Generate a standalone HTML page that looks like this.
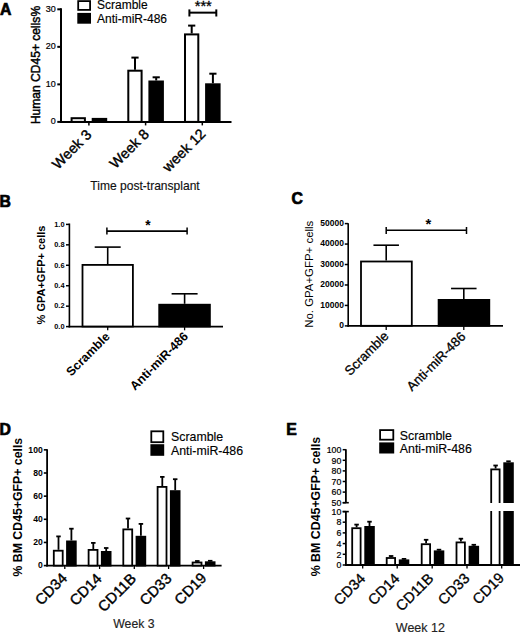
<!DOCTYPE html>
<html><head><meta charset="utf-8"><title>Figure</title><style>
html,body{margin:0;padding:0;background:#fff;}
svg{display:block;}
text{font-family:"Liberation Sans", sans-serif;}
</style></head><body>
<svg width="520" height="632" viewBox="0 0 520 632">
<rect width="520" height="632" fill="#fff"/>
<text x="-0.05" y="14.9" font-size="15.8" font-weight="bold" fill="#000" stroke="#000" stroke-width="0.7">A</text>
<rect x="78.2" y="1.1" width="11.9" height="8.8" fill="#fff" stroke="#000" stroke-width="1.8"/>
<rect x="77.3" y="12.9" width="13.7" height="10.8" fill="#000"/>
<text x="97" y="9.0" font-size="12" fill="#000" stroke="#000" stroke-width="0.15">Scramble</text>
<text x="97" y="22.6" font-size="12" fill="#000" stroke="#000" stroke-width="0.15">Anti-miR-486</text>
<line x1="61" y1="8.3" x2="61" y2="122.9" stroke="#000" stroke-width="2"/>
<line x1="60" y1="121.9" x2="231.5" y2="121.9" stroke="#000" stroke-width="2"/>
<line x1="57.3" y1="9.31" x2="61" y2="9.31" stroke="#000" stroke-width="2"/>
<line x1="57.3" y1="46.84" x2="61" y2="46.84" stroke="#000" stroke-width="2"/>
<line x1="57.3" y1="84.37" x2="61" y2="84.37" stroke="#000" stroke-width="2"/>
<line x1="57.3" y1="121.9" x2="61" y2="121.9" stroke="#000" stroke-width="2"/>
<text x="55.75" y="11.73" font-size="9.0" text-anchor="end" fill="#000" transform="matrix(1 0 0 1.08 0 -0.94)" stroke="#000" stroke-width="0.2">30</text>
<text x="55.75" y="49.26" font-size="9.0" text-anchor="end" fill="#000" transform="matrix(1 0 0 1.08 0 -3.94)" stroke="#000" stroke-width="0.2">20</text>
<text x="55.75" y="86.79" font-size="9.0" text-anchor="end" fill="#000" transform="matrix(1 0 0 1.08 0 -6.94)" stroke="#000" stroke-width="0.2">10</text>
<text x="55.75" y="124.32" font-size="9.0" text-anchor="end" fill="#000" transform="matrix(1 0 0 1.08 0 -9.95)" stroke="#000" stroke-width="0.2">0</text>
<rect x="71.6" y="118.2" width="13.3" height="3.7" fill="#fff" stroke="#000" stroke-width="2"/>
<rect x="91.7" y="117.9" width="15.5" height="5.0" fill="#000"/>
<line x1="88.9" y1="121.9" x2="88.9" y2="125.4" stroke="#000" stroke-width="1.5"/>
<line x1="135.0" y1="69.7" x2="135.0" y2="57.6" stroke="#000" stroke-width="2"/>
<line x1="131.4" y1="57.6" x2="138.6" y2="57.6" stroke="#000" stroke-width="2"/>
<line x1="156.2" y1="80.5" x2="156.2" y2="77.3" stroke="#000" stroke-width="2"/>
<line x1="152.6" y1="77.3" x2="159.8" y2="77.3" stroke="#000" stroke-width="2"/>
<rect x="128.3" y="70.7" width="13.3" height="51.2" fill="#fff" stroke="#000" stroke-width="2"/>
<rect x="148.4" y="80.5" width="15.5" height="42.4" fill="#000"/>
<line x1="145.6" y1="121.9" x2="145.6" y2="125.4" stroke="#000" stroke-width="1.5"/>
<line x1="191.7" y1="33.4" x2="191.7" y2="25.6" stroke="#000" stroke-width="2"/>
<line x1="188.1" y1="25.6" x2="195.3" y2="25.6" stroke="#000" stroke-width="2"/>
<line x1="212.9" y1="83.3" x2="212.9" y2="73.7" stroke="#000" stroke-width="2"/>
<line x1="209.3" y1="73.7" x2="216.5" y2="73.7" stroke="#000" stroke-width="2"/>
<rect x="185.0" y="34.4" width="13.3" height="87.5" fill="#fff" stroke="#000" stroke-width="2"/>
<rect x="205.1" y="83.3" width="15.5" height="39.6" fill="#000"/>
<line x1="202.3" y1="121.9" x2="202.3" y2="125.4" stroke="#000" stroke-width="1.5"/>
<line x1="189.4" y1="12.65" x2="216.3" y2="12.65" stroke="#000" stroke-width="2"/>
<line x1="189.4" y1="9.4" x2="189.4" y2="16.5" stroke="#000" stroke-width="2"/>
<line x1="216.3" y1="9.4" x2="216.3" y2="16.5" stroke="#000" stroke-width="2"/>
<text x="203.25" y="11.1" font-size="14.67" text-anchor="middle" fill="#000" stroke="#000" stroke-width="0.3">***</text>
<text x="39.8" y="65.0" font-size="12.06" text-anchor="middle" fill="#000" transform="rotate(-90 39.8 65.0)" stroke="#000" stroke-width="0.45">Human CD45+ cells%</text>
<text x="92.4" y="135.6" font-size="14.4" text-anchor="end" fill="#000" transform="rotate(-45 92.4 135.6)" stroke="#000" stroke-width="0.4">Week 3</text>
<text x="149.9" y="135.0" font-size="14.4" text-anchor="end" fill="#000" transform="rotate(-45 149.9 135.0)" stroke="#000" stroke-width="0.4">Week 8</text>
<text x="206.5" y="134.75" font-size="14.4" text-anchor="end" fill="#000" transform="rotate(-45 206.5 134.75)" stroke="#000" stroke-width="0.4">week 12</text>
<text x="145.05" y="190.3" font-size="12.05" text-anchor="middle" fill="#111" stroke="#111" stroke-width="0.15">Time post-transplant</text>
<text x="-0.4" y="206.5" font-size="15.8" font-weight="bold" fill="#000" stroke="#000" stroke-width="0.7">B</text>
<line x1="69.4" y1="223.5" x2="69.4" y2="327.4" stroke="#000" stroke-width="1.6"/>
<line x1="68.6" y1="326.6" x2="223" y2="326.6" stroke="#000" stroke-width="1.6"/>
<line x1="66" y1="224.4" x2="69.4" y2="224.4" stroke="#000" stroke-width="1.5"/>
<line x1="66" y1="244.84" x2="69.4" y2="244.84" stroke="#000" stroke-width="1.5"/>
<line x1="66" y1="265.28" x2="69.4" y2="265.28" stroke="#000" stroke-width="1.5"/>
<line x1="66" y1="285.72" x2="69.4" y2="285.72" stroke="#000" stroke-width="1.5"/>
<line x1="66" y1="306.16" x2="69.4" y2="306.16" stroke="#000" stroke-width="1.5"/>
<line x1="66" y1="326.6" x2="69.4" y2="326.6" stroke="#000" stroke-width="1.5"/>
<text x="64.5" y="226.62" font-size="7.4" font-weight="bold" text-anchor="end" fill="#000">1.0</text>
<text x="64.5" y="247.06" font-size="7.4" font-weight="bold" text-anchor="end" fill="#000">0.8</text>
<text x="64.5" y="267.5" font-size="7.4" font-weight="bold" text-anchor="end" fill="#000">0.6</text>
<text x="64.5" y="287.94" font-size="7.4" font-weight="bold" text-anchor="end" fill="#000">0.4</text>
<text x="64.5" y="308.38" font-size="7.4" font-weight="bold" text-anchor="end" fill="#000">0.2</text>
<text x="64.5" y="328.82" font-size="7.4" font-weight="bold" text-anchor="end" fill="#000">0.0</text>
<line x1="107.7" y1="264" x2="107.7" y2="247.1" stroke="#000" stroke-width="1.6"/>
<line x1="94.7" y1="247.1" x2="120.7" y2="247.1" stroke="#000" stroke-width="1.6"/>
<rect x="82.5" y="264.9" width="50.4" height="61.6" fill="#fff" stroke="#000" stroke-width="1.8"/>
<line x1="184.6" y1="303.8" x2="184.6" y2="293.8" stroke="#000" stroke-width="1.6"/>
<line x1="171.6" y1="293.8" x2="197.6" y2="293.8" stroke="#000" stroke-width="1.6"/>
<rect x="158.3" y="303.8" width="52.5" height="23.6" fill="#000"/>
<line x1="107.7" y1="326.6" x2="107.7" y2="330.3" stroke="#000" stroke-width="1.3"/>
<line x1="184.6" y1="326.6" x2="184.6" y2="330.3" stroke="#000" stroke-width="1.3"/>
<line x1="106.9" y1="231.1" x2="187.1" y2="231.1" stroke="#000" stroke-width="1.6"/>
<line x1="106.9" y1="227.5" x2="106.9" y2="234.5" stroke="#000" stroke-width="1.5"/>
<line x1="187.1" y1="227.5" x2="187.1" y2="234.5" stroke="#000" stroke-width="1.5"/>
<text x="147.95" y="229.55" font-size="13.8" font-weight="bold" text-anchor="middle" fill="#000">*</text>
<text x="44.8" y="275.0" font-size="11.01" font-weight="bold" text-anchor="middle" fill="#000" transform="rotate(-90 44.8 275.0)">% GPA+GFP+ cells</text>
<text x="110.5" y="337.5" font-size="12.35" font-weight="bold" text-anchor="end" fill="#000" transform="rotate(-45 110.5 337.5)">Scramble</text>
<text x="188.8" y="337.1" font-size="12.35" font-weight="bold" text-anchor="end" fill="#000" transform="rotate(-45 188.8 337.1)">Anti-miR-486</text>
<text x="291.5" y="204.0" font-size="15.8" font-weight="bold" fill="#000" stroke="#000" stroke-width="0.7">C</text>
<line x1="348.2" y1="223.3" x2="348.2" y2="326.7" stroke="#000" stroke-width="1.6"/>
<line x1="347.4" y1="325.9" x2="503" y2="325.9" stroke="#000" stroke-width="1.6"/>
<line x1="344.8" y1="223.6" x2="348.2" y2="223.6" stroke="#000" stroke-width="1.5"/>
<line x1="344.8" y1="244.06" x2="348.2" y2="244.06" stroke="#000" stroke-width="1.5"/>
<line x1="344.8" y1="264.52" x2="348.2" y2="264.52" stroke="#000" stroke-width="1.5"/>
<line x1="344.8" y1="284.98" x2="348.2" y2="284.98" stroke="#000" stroke-width="1.5"/>
<line x1="344.8" y1="305.44" x2="348.2" y2="305.44" stroke="#000" stroke-width="1.5"/>
<line x1="344.8" y1="325.9" x2="348.2" y2="325.9" stroke="#000" stroke-width="1.5"/>
<text x="343.9" y="225.98" font-size="8.5" font-weight="bold" text-anchor="end" fill="#000" transform="matrix(1 0 0 1.12 0 -27.12)">50000</text>
<text x="343.9" y="246.44" font-size="8.5" font-weight="bold" text-anchor="end" fill="#000" transform="matrix(1 0 0 1.12 0 -29.57)">40000</text>
<text x="343.9" y="266.9" font-size="8.5" font-weight="bold" text-anchor="end" fill="#000" transform="matrix(1 0 0 1.12 0 -32.03)">30000</text>
<text x="343.9" y="287.36" font-size="8.5" font-weight="bold" text-anchor="end" fill="#000" transform="matrix(1 0 0 1.12 0 -34.48)">20000</text>
<text x="343.9" y="307.82" font-size="8.5" font-weight="bold" text-anchor="end" fill="#000" transform="matrix(1 0 0 1.12 0 -36.94)">10000</text>
<text x="343.9" y="328.28" font-size="8.5" font-weight="bold" text-anchor="end" fill="#000" transform="matrix(1 0 0 1.12 0 -39.39)">0</text>
<line x1="386.2" y1="260.6" x2="386.2" y2="245.2" stroke="#000" stroke-width="1.6"/>
<line x1="373.45" y1="245.2" x2="398.95" y2="245.2" stroke="#000" stroke-width="1.6"/>
<rect x="361.0" y="261.5" width="50.8" height="64.3" fill="#fff" stroke="#000" stroke-width="1.8"/>
<line x1="463.8" y1="299" x2="463.8" y2="288.5" stroke="#000" stroke-width="1.6"/>
<line x1="451.05" y1="288.5" x2="476.55" y2="288.5" stroke="#000" stroke-width="1.6"/>
<rect x="437.7" y="299" width="52.5" height="27.7" fill="#000"/>
<line x1="386.2" y1="325.9" x2="386.2" y2="330" stroke="#000" stroke-width="1.3"/>
<line x1="463.8" y1="325.9" x2="463.8" y2="330" stroke="#000" stroke-width="1.3"/>
<line x1="386.2" y1="230.2" x2="466.5" y2="230.2" stroke="#000" stroke-width="1.6"/>
<line x1="386.2" y1="227" x2="386.2" y2="234" stroke="#000" stroke-width="1.5"/>
<line x1="466.5" y1="227" x2="466.5" y2="234" stroke="#000" stroke-width="1.5"/>
<text x="428.3" y="228.8" font-size="14.77" font-weight="bold" text-anchor="middle" fill="#000">*</text>
<text x="313.15" y="274.25" font-size="11.43" text-anchor="middle" fill="#000" transform="rotate(-90 313.15 274.25)">No. GPA+GFP+ cells</text>
<text x="389.5" y="336.9" font-size="13.2" text-anchor="end" fill="#000" transform="rotate(-45 389.5 336.9)" stroke="#000" stroke-width="0.3">Scramble</text>
<text x="466.4" y="337.4" font-size="13.2" text-anchor="end" fill="#000" transform="rotate(-45 466.4 337.4)" stroke="#000" stroke-width="0.3">Anti-miR-486</text>
<text x="-0.4" y="435.25" font-size="15.8" font-weight="bold" fill="#000" stroke="#000" stroke-width="0.7">D</text>
<line x1="47.1" y1="449.3" x2="47.1" y2="566.5" stroke="#000" stroke-width="1.8"/>
<line x1="46.2" y1="565.6" x2="221.6" y2="565.6" stroke="#000" stroke-width="1.8"/>
<line x1="43.8" y1="449.85" x2="47.1" y2="449.85" stroke="#000" stroke-width="1.6"/>
<line x1="43.8" y1="473.0" x2="47.1" y2="473.0" stroke="#000" stroke-width="1.6"/>
<line x1="43.8" y1="496.15" x2="47.1" y2="496.15" stroke="#000" stroke-width="1.6"/>
<line x1="43.8" y1="519.3" x2="47.1" y2="519.3" stroke="#000" stroke-width="1.6"/>
<line x1="43.8" y1="542.45" x2="47.1" y2="542.45" stroke="#000" stroke-width="1.6"/>
<line x1="43.8" y1="565.6" x2="47.1" y2="565.6" stroke="#000" stroke-width="1.6"/>
<text x="42.7" y="452.66" font-size="8.6" font-weight="bold" text-anchor="end" fill="#000" transform="matrix(1 0 0 1.08 0 -36.21)">100</text>
<text x="42.7" y="475.81" font-size="8.6" font-weight="bold" text-anchor="end" fill="#000" transform="matrix(1 0 0 1.08 0 -38.06)">80</text>
<text x="42.7" y="498.96" font-size="8.6" font-weight="bold" text-anchor="end" fill="#000" transform="matrix(1 0 0 1.08 0 -39.92)">60</text>
<text x="42.7" y="522.11" font-size="8.6" font-weight="bold" text-anchor="end" fill="#000" transform="matrix(1 0 0 1.08 0 -41.77)">40</text>
<text x="42.7" y="545.26" font-size="8.6" font-weight="bold" text-anchor="end" fill="#000" transform="matrix(1 0 0 1.08 0 -43.62)">20</text>
<text x="42.7" y="568.41" font-size="8.6" font-weight="bold" text-anchor="end" fill="#000" transform="matrix(1 0 0 1.08 0 -45.47)">0</text>
<rect x="151.3" y="431.3" width="12.0" height="10.9" fill="#fff" stroke="#000" stroke-width="1.8"/>
<rect x="150.4" y="444.2" width="13.8" height="11.6" fill="#000"/>
<text x="171.0" y="441.1" font-size="12.35" fill="#000" stroke="#000" stroke-width="0.15">Scramble</text>
<text x="171.0" y="454.6" font-size="12.35" fill="#000" stroke="#000" stroke-width="0.15">Anti-miR-486</text>
<line x1="58.5" y1="549.8" x2="58.5" y2="536.4" stroke="#000" stroke-width="1.8"/>
<line x1="56.25" y1="536.4" x2="60.75" y2="536.4" stroke="#000" stroke-width="1.8"/>
<line x1="71.4" y1="540.5" x2="71.4" y2="528.7" stroke="#000" stroke-width="1.8"/>
<line x1="69.15" y1="528.7" x2="73.65" y2="528.7" stroke="#000" stroke-width="1.8"/>
<rect x="53.8" y="550.7" width="8.9" height="14.9" fill="#fff" stroke="#000" stroke-width="1.8"/>
<rect x="66.1" y="540.5" width="10.6" height="26.0" fill="#000"/>
<line x1="64.8" y1="565.6" x2="64.8" y2="569.0" stroke="#000" stroke-width="1.3"/>
<line x1="93.3" y1="549" x2="93.3" y2="542.9" stroke="#000" stroke-width="1.8"/>
<line x1="91.05" y1="542.9" x2="95.55" y2="542.9" stroke="#000" stroke-width="1.8"/>
<line x1="106.2" y1="551" x2="106.2" y2="548" stroke="#000" stroke-width="1.8"/>
<line x1="103.95" y1="548" x2="108.45" y2="548" stroke="#000" stroke-width="1.8"/>
<rect x="88.6" y="549.9" width="8.9" height="15.7" fill="#fff" stroke="#000" stroke-width="1.8"/>
<rect x="100.9" y="551" width="10.6" height="15.5" fill="#000"/>
<line x1="99.6" y1="565.6" x2="99.6" y2="569.0" stroke="#000" stroke-width="1.3"/>
<line x1="128.0" y1="528.5" x2="128.0" y2="518.5" stroke="#000" stroke-width="1.8"/>
<line x1="125.75" y1="518.5" x2="130.25" y2="518.5" stroke="#000" stroke-width="1.8"/>
<line x1="140.9" y1="535.8" x2="140.9" y2="523.9" stroke="#000" stroke-width="1.8"/>
<line x1="138.65" y1="523.9" x2="143.15" y2="523.9" stroke="#000" stroke-width="1.8"/>
<rect x="123.3" y="529.4" width="8.9" height="36.2" fill="#fff" stroke="#000" stroke-width="1.8"/>
<rect x="135.6" y="535.8" width="10.6" height="30.7" fill="#000"/>
<line x1="134.3" y1="565.6" x2="134.3" y2="569.0" stroke="#000" stroke-width="1.3"/>
<line x1="162.3" y1="486" x2="162.3" y2="476.9" stroke="#000" stroke-width="1.8"/>
<line x1="160.05" y1="476.9" x2="164.55" y2="476.9" stroke="#000" stroke-width="1.8"/>
<line x1="175.2" y1="490.2" x2="175.2" y2="479.2" stroke="#000" stroke-width="1.8"/>
<line x1="172.95" y1="479.2" x2="177.45" y2="479.2" stroke="#000" stroke-width="1.8"/>
<rect x="157.6" y="486.9" width="8.9" height="78.7" fill="#fff" stroke="#000" stroke-width="1.8"/>
<rect x="169.9" y="490.2" width="10.6" height="76.3" fill="#000"/>
<line x1="168.6" y1="565.6" x2="168.6" y2="569.0" stroke="#000" stroke-width="1.3"/>
<line x1="197.3" y1="561.6" x2="197.3" y2="561.0" stroke="#000" stroke-width="1.8"/>
<line x1="195.05" y1="561.0" x2="199.55" y2="561.0" stroke="#000" stroke-width="1.8"/>
<line x1="210.2" y1="561.3" x2="210.2" y2="560.8" stroke="#000" stroke-width="1.8"/>
<line x1="207.95" y1="560.8" x2="212.45" y2="560.8" stroke="#000" stroke-width="1.8"/>
<rect x="192.6" y="562.5" width="8.9" height="3.1" fill="#fff" stroke="#000" stroke-width="1.8"/>
<rect x="204.9" y="561.3" width="10.6" height="5.2" fill="#000"/>
<line x1="203.6" y1="565.6" x2="203.6" y2="569.0" stroke="#000" stroke-width="1.3"/>
<text x="22.0" y="507.15" font-size="12.31" font-weight="bold" text-anchor="middle" fill="#000" transform="rotate(-90 22.0 507.15)">% BM CD45+GFP+ cells</text>
<text x="68.05" y="579.15" font-size="14.85" text-anchor="end" fill="#000" transform="rotate(-45 68.05 579.15)" stroke="#000" stroke-width="0.4">CD34</text>
<text x="102.6" y="579.55" font-size="14.85" text-anchor="end" fill="#000" transform="rotate(-45 102.6 579.55)" stroke="#000" stroke-width="0.4">CD14</text>
<text x="137.05" y="579.6" font-size="14.85" text-anchor="end" fill="#000" transform="rotate(-45 137.05 579.6)" stroke="#000" stroke-width="0.4">CD11B</text>
<text x="172.55" y="579.3" font-size="14.85" text-anchor="end" fill="#000" transform="rotate(-45 172.55 579.3)" stroke="#000" stroke-width="0.4">CD33</text>
<text x="207.45" y="578.8" font-size="14.85" text-anchor="end" fill="#000" transform="rotate(-45 207.45 578.8)" stroke="#000" stroke-width="0.4">CD19</text>
<text x="133.95" y="628.15" font-size="12.26" text-anchor="middle" fill="#222" stroke="#222" stroke-width="0.15">Week 3</text>
<text x="286.3" y="434.9" font-size="15.8" font-weight="bold" fill="#000" stroke="#000" stroke-width="0.7">E</text>
<line x1="345.9" y1="449.3" x2="345.9" y2="502.7" stroke="#000" stroke-width="1.8"/>
<line x1="342.7" y1="449.7" x2="345.9" y2="449.7" stroke="#000" stroke-width="1.5"/>
<line x1="342.7" y1="460.3" x2="345.9" y2="460.3" stroke="#000" stroke-width="1.5"/>
<line x1="342.7" y1="470.9" x2="345.9" y2="470.9" stroke="#000" stroke-width="1.5"/>
<line x1="342.7" y1="481.5" x2="345.9" y2="481.5" stroke="#000" stroke-width="1.5"/>
<line x1="342.7" y1="492.1" x2="345.9" y2="492.1" stroke="#000" stroke-width="1.5"/>
<line x1="342.7" y1="502.7" x2="345.9" y2="502.7" stroke="#000" stroke-width="1.5"/>
<text x="341.35" y="453.01" font-size="8.8" text-anchor="end" fill="#000" transform="matrix(1 0 0 1.06 0 -27.18)" stroke="#000" stroke-width="0.2">100</text>
<text x="341.35" y="463.61" font-size="8.8" text-anchor="end" fill="#000" transform="matrix(1 0 0 1.06 0 -27.82)" stroke="#000" stroke-width="0.2">90</text>
<text x="341.35" y="474.21" font-size="8.8" text-anchor="end" fill="#000" transform="matrix(1 0 0 1.06 0 -28.45)" stroke="#000" stroke-width="0.2">80</text>
<text x="341.35" y="484.81" font-size="8.8" text-anchor="end" fill="#000" transform="matrix(1 0 0 1.06 0 -29.09)" stroke="#000" stroke-width="0.2">70</text>
<text x="341.35" y="495.41" font-size="8.8" text-anchor="end" fill="#000" transform="matrix(1 0 0 1.06 0 -29.72)" stroke="#000" stroke-width="0.2">60</text>
<text x="341.35" y="506.01" font-size="8.8" text-anchor="end" fill="#000" transform="matrix(1 0 0 1.06 0 -30.36)" stroke="#000" stroke-width="0.2">50</text>
<line x1="342.7" y1="502.7" x2="348.8" y2="502.7" stroke="#000" stroke-width="1.6"/>
<line x1="345.9" y1="511.6" x2="345.9" y2="565.9" stroke="#000" stroke-width="1.8"/>
<line x1="342.7" y1="511.6" x2="345.9" y2="511.6" stroke="#000" stroke-width="1.5"/>
<line x1="342.7" y1="522.18" x2="345.9" y2="522.18" stroke="#000" stroke-width="1.5"/>
<line x1="342.7" y1="532.88" x2="345.9" y2="532.88" stroke="#000" stroke-width="1.5"/>
<line x1="342.7" y1="543.59" x2="345.9" y2="543.59" stroke="#000" stroke-width="1.5"/>
<line x1="342.7" y1="554.29" x2="345.9" y2="554.29" stroke="#000" stroke-width="1.5"/>
<line x1="342.7" y1="565.0" x2="345.9" y2="565.0" stroke="#000" stroke-width="1.5"/>
<text x="341.35" y="514.91" font-size="8.8" text-anchor="end" fill="#000" transform="matrix(1 0 0 1.06 0 -30.89)" stroke="#000" stroke-width="0.2">10</text>
<text x="341.35" y="525.49" font-size="8.8" text-anchor="end" fill="#000" transform="matrix(1 0 0 1.06 0 -31.53)" stroke="#000" stroke-width="0.2">8</text>
<text x="341.35" y="536.19" font-size="8.8" text-anchor="end" fill="#000" transform="matrix(1 0 0 1.06 0 -32.17)" stroke="#000" stroke-width="0.2">6</text>
<text x="341.35" y="546.9" font-size="8.8" text-anchor="end" fill="#000" transform="matrix(1 0 0 1.06 0 -32.81)" stroke="#000" stroke-width="0.2">4</text>
<text x="341.35" y="557.6" font-size="8.8" text-anchor="end" fill="#000" transform="matrix(1 0 0 1.06 0 -33.46)" stroke="#000" stroke-width="0.2">2</text>
<text x="341.35" y="568.31" font-size="8.8" text-anchor="end" fill="#000" transform="matrix(1 0 0 1.06 0 -34.1)" stroke="#000" stroke-width="0.2">0</text>
<line x1="342.7" y1="511.6" x2="348.8" y2="511.6" stroke="#000" stroke-width="1.6"/>
<line x1="345.0" y1="565.0" x2="520" y2="565.0" stroke="#000" stroke-width="1.8"/>
<rect x="380.1" y="430.1" width="13.2" height="9.6" fill="#fff" stroke="#000" stroke-width="1.8"/>
<rect x="379.2" y="442.4" width="15.0" height="11.1" fill="#000"/>
<text x="399.8" y="439.9" font-size="12.35" fill="#000" stroke="#000" stroke-width="0.15">Scramble</text>
<text x="399.8" y="453.3" font-size="12.35" fill="#000" stroke="#000" stroke-width="0.15">Anti-miR-486</text>
<line x1="356.6" y1="527.3" x2="356.6" y2="524.6" stroke="#000" stroke-width="1.8"/>
<line x1="354.35" y1="524.6" x2="358.85" y2="524.6" stroke="#000" stroke-width="1.8"/>
<line x1="369.5" y1="526" x2="369.5" y2="521.7" stroke="#000" stroke-width="1.8"/>
<line x1="367.25" y1="521.7" x2="371.75" y2="521.7" stroke="#000" stroke-width="1.8"/>
<rect x="352.2" y="528.2" width="8.4" height="36.8" fill="#fff" stroke="#000" stroke-width="1.8"/>
<rect x="364.3" y="526" width="10.5" height="39.9" fill="#000"/>
<line x1="362.7" y1="565.0" x2="362.7" y2="568.5" stroke="#000" stroke-width="1.3"/>
<line x1="391.1" y1="557.1" x2="391.1" y2="556.0" stroke="#000" stroke-width="1.8"/>
<line x1="388.85" y1="556.0" x2="393.35" y2="556.0" stroke="#000" stroke-width="1.8"/>
<line x1="404.0" y1="559.4" x2="404.0" y2="558.9" stroke="#000" stroke-width="1.8"/>
<line x1="401.75" y1="558.9" x2="406.25" y2="558.9" stroke="#000" stroke-width="1.8"/>
<rect x="386.7" y="558.0" width="8.4" height="7.0" fill="#fff" stroke="#000" stroke-width="1.8"/>
<rect x="398.8" y="559.4" width="10.5" height="6.5" fill="#000"/>
<line x1="397.2" y1="565.0" x2="397.2" y2="568.5" stroke="#000" stroke-width="1.3"/>
<line x1="426.1" y1="543.3" x2="426.1" y2="539.8" stroke="#000" stroke-width="1.8"/>
<line x1="423.85" y1="539.8" x2="428.35" y2="539.8" stroke="#000" stroke-width="1.8"/>
<line x1="439.0" y1="550.4" x2="439.0" y2="549.7" stroke="#000" stroke-width="1.8"/>
<line x1="436.75" y1="549.7" x2="441.25" y2="549.7" stroke="#000" stroke-width="1.8"/>
<rect x="421.7" y="544.2" width="8.4" height="20.8" fill="#fff" stroke="#000" stroke-width="1.8"/>
<rect x="433.8" y="550.4" width="10.5" height="15.5" fill="#000"/>
<line x1="432.2" y1="565.0" x2="432.2" y2="568.5" stroke="#000" stroke-width="1.3"/>
<line x1="460.9" y1="541.5" x2="460.9" y2="538.7" stroke="#000" stroke-width="1.8"/>
<line x1="458.65" y1="538.7" x2="463.15" y2="538.7" stroke="#000" stroke-width="1.8"/>
<line x1="473.8" y1="545.8" x2="473.8" y2="544.8" stroke="#000" stroke-width="1.8"/>
<line x1="471.55" y1="544.8" x2="476.05" y2="544.8" stroke="#000" stroke-width="1.8"/>
<rect x="456.5" y="542.4" width="8.4" height="22.6" fill="#fff" stroke="#000" stroke-width="1.8"/>
<rect x="468.6" y="545.8" width="10.5" height="20.1" fill="#000"/>
<line x1="467.0" y1="565.0" x2="467.0" y2="568.5" stroke="#000" stroke-width="1.3"/>
<line x1="495.6" y1="468.5" x2="495.6" y2="465.5" stroke="#000" stroke-width="1.8"/>
<line x1="493.35" y1="465.5" x2="497.85" y2="465.5" stroke="#000" stroke-width="1.8"/>
<line x1="508.5" y1="462.3" x2="508.5" y2="461.3" stroke="#000" stroke-width="1.8"/>
<line x1="506.25" y1="461.3" x2="510.75" y2="461.3" stroke="#000" stroke-width="1.8"/>
<rect x="491.2" y="469.4" width="8.4" height="95.6" fill="#fff" stroke="#000" stroke-width="1.8"/>
<rect x="503.3" y="462.3" width="10.5" height="103.6" fill="#000"/>
<line x1="501.7" y1="565.0" x2="501.7" y2="568.5" stroke="#000" stroke-width="1.3"/>
<rect x="488" y="503" width="28" height="8" fill="#fff"/>
<text x="319.8" y="506.55" font-size="12.39" font-weight="bold" text-anchor="middle" fill="#000" transform="rotate(-90 319.8 506.55)">% BM CD45+GFP+ cells</text>
<text x="366.3" y="579.4" font-size="14.7" text-anchor="end" fill="#000" transform="rotate(-45 366.3 579.4)" stroke="#000" stroke-width="0.3">CD34</text>
<text x="400.6" y="579.4" font-size="14.7" text-anchor="end" fill="#000" transform="rotate(-45 400.6 579.4)" stroke="#000" stroke-width="0.3">CD14</text>
<text x="434.5" y="579.2" font-size="14.7" text-anchor="end" fill="#000" transform="rotate(-45 434.5 579.2)" stroke="#000" stroke-width="0.3">CD11B</text>
<text x="470.5" y="579.3" font-size="14.7" text-anchor="end" fill="#000" transform="rotate(-45 470.5 579.3)" stroke="#000" stroke-width="0.3">CD33</text>
<text x="505.1" y="578.8" font-size="14.7" text-anchor="end" fill="#000" transform="rotate(-45 505.1 578.8)" stroke="#000" stroke-width="0.3">CD19</text>
<text x="420.4" y="632.25" font-size="12.5" text-anchor="middle" fill="#222" stroke="#222" stroke-width="0.15">Week 12</text>
</svg>
</body></html>
